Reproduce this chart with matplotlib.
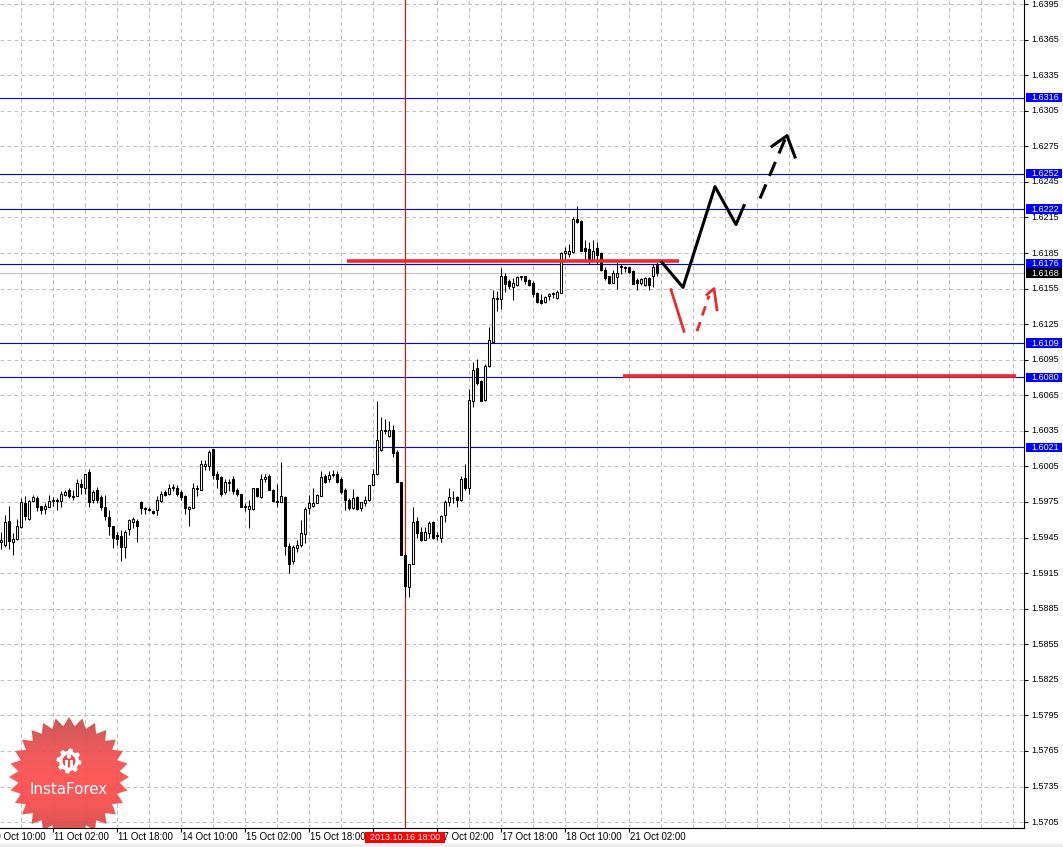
import numpy as np
import matplotlib
matplotlib.use('Agg')
import matplotlib.pyplot as plt
from matplotlib.patches import Rectangle, Polygon, Circle
from matplotlib.transforms import blended_transform_factory
from matplotlib.colors import LinearSegmentedColormap

# hourly bars, 10 Oct 13:00 .. 21 Oct 04:00
opens = [1.5941, 1.5939, 1.5959, 1.5941, 1.5944, 1.5954, 1.5974, 1.5961, 1.5976, 1.5978,
         1.5972, 1.5969, 1.5971, 1.5976, 1.5977, 1.5976, 1.5981, 1.5985, 1.5980, 1.5980,
         1.5990, 1.5987, 1.6000, 1.5977, 1.5985, 1.5979, 1.5971, 1.5962, 1.5955, 1.5947,
         1.5946, 1.5937, 1.5952, 1.5958, 1.5959, 1.5975, 1.5970, 1.5969, 1.5967, 1.5968,
         1.5976, 1.5983, 1.5982, 1.5987, 1.5987, 1.5983, 1.5980, 1.5969, 1.5970, 1.5986,
         1.5985, 1.6005, 1.6005, 1.6020, 1.5999, 1.5996, 1.5983, 1.5992, 1.5994, 1.5985,
         1.5982, 1.5972, 1.5969, 1.5969, 1.5987, 1.5979, 1.5994, 1.5997, 1.5985, 1.5976,
         1.5975, 1.5979, 1.5938, 1.5925, 1.5936, 1.5939, 1.5948, 1.5970, 1.5972, 1.5974,
         1.5980, 1.5997, 1.5994, 1.5998, 1.5999, 1.5994, 1.5985, 1.5977, 1.5970, 1.5979,
         1.5970, 1.5974, 1.5977, 1.5989, 1.5999, 1.6019, 1.6036, 1.6031, 1.6036, 1.6017,
         1.5992, 1.5930, 1.5903, 1.5923, 1.5959, 1.5950, 1.5943, 1.5949, 1.5958, 1.5947,
         1.5945, 1.5964, 1.5975, 1.5978, 1.5979, 1.5977, 1.5995, 1.5987, 1.6060, 1.6088,
         1.6077, 1.6061, 1.6090, 1.6110, 1.6147, 1.6146, 1.6166, 1.6161, 1.6156, 1.6158,
         1.6165, 1.6166, 1.6162, 1.6160, 1.6151, 1.6145, 1.6144, 1.6149, 1.6150, 1.6147,
         1.6151, 1.6185, 1.6184, 1.6186, 1.6214, 1.6212, 1.6189, 1.6188, 1.6178, 1.6189,
         1.6185, 1.6171, 1.6166, 1.6160, 1.6165, 1.6174, 1.6173, 1.6173, 1.6170, 1.6162,
         1.6160, 1.6158, 1.6164, 1.6166, 1.6175]
highs = [1.5950, 1.5964, 1.5972, 1.5949, 1.5961, 1.5978, 1.5980, 1.5977, 1.5981, 1.5980,
         1.5972, 1.5974, 1.5981, 1.5979, 1.5978, 1.5984, 1.5985, 1.5987, 1.5985, 1.5994,
         1.5994, 1.5999, 1.6003, 1.5985, 1.5988, 1.5981, 1.5981, 1.5968, 1.5955, 1.5950,
         1.5951, 1.5951, 1.5961, 1.5962, 1.5961, 1.5976, 1.5971, 1.5971, 1.5968, 1.5980,
         1.5984, 1.5985, 1.5990, 1.5990, 1.5989, 1.5985, 1.5981, 1.5972, 1.5991, 1.5989,
         1.6010, 1.6010, 1.6019, 1.6020, 1.6001, 1.5997, 1.5994, 1.5994, 1.5997, 1.5987,
         1.5982, 1.5974, 1.5977, 1.5987, 1.5987, 1.5999, 1.5999, 1.5999, 1.5986, 1.5990,
         1.6009, 1.5980, 1.5940, 1.5939, 1.5943, 1.5960, 1.5971, 1.5981, 1.5987, 1.5982,
         1.6001, 1.5999, 1.6001, 1.6002, 1.6001, 1.5996, 1.5987, 1.5978, 1.5986, 1.5980,
         1.5975, 1.5980, 1.5989, 1.6003, 1.6060, 1.6047, 1.6045, 1.6043, 1.6040, 1.6019,
         1.5992, 1.5932, 1.5923, 1.5971, 1.5962, 1.5954, 1.5954, 1.5959, 1.5959, 1.5950,
         1.5964, 1.5977, 1.5987, 1.5984, 1.5980, 1.5997, 1.6007, 1.6070, 1.6093, 1.6096,
         1.6078, 1.6091, 1.6123, 1.6154, 1.6153, 1.6172, 1.6168, 1.6163, 1.6164, 1.6166,
         1.6166, 1.6166, 1.6163, 1.6161, 1.6152, 1.6150, 1.6149, 1.6151, 1.6152, 1.6154,
         1.6186, 1.6190, 1.6193, 1.6215, 1.6225, 1.6213, 1.6196, 1.6194, 1.6196, 1.6194,
         1.6186, 1.6173, 1.6166, 1.6171, 1.6177, 1.6176, 1.6174, 1.6173, 1.6171, 1.6164,
         1.6164, 1.6165, 1.6165, 1.6176, 1.6177]
lows = [1.5935, 1.5937, 1.5935, 1.5930, 1.5943, 1.5953, 1.5960, 1.5960, 1.5975, 1.5967,
        1.5965, 1.5965, 1.5971, 1.5972, 1.5968, 1.5971, 1.5980, 1.5978, 1.5977, 1.5980,
        1.5982, 1.5982, 1.5971, 1.5974, 1.5974, 1.5968, 1.5960, 1.5947, 1.5936, 1.5939,
        1.5925, 1.5928, 1.5947, 1.5953, 1.5941, 1.5965, 1.5965, 1.5967, 1.5965, 1.5964,
        1.5975, 1.5980, 1.5981, 1.5984, 1.5980, 1.5977, 1.5965, 1.5955, 1.5970, 1.5980,
        1.5985, 1.6002, 1.6002, 1.5994, 1.5987, 1.5980, 1.5982, 1.5984, 1.5982, 1.5980,
        1.5971, 1.5967, 1.5953, 1.5968, 1.5979, 1.5978, 1.5992, 1.5985, 1.5975, 1.5971,
        1.5975, 1.5930, 1.5915, 1.5923, 1.5933, 1.5937, 1.5940, 1.5965, 1.5971, 1.5974,
        1.5980, 1.5991, 1.5992, 1.5996, 1.5991, 1.5982, 1.5968, 1.5968, 1.5969, 1.5968,
        1.5967, 1.5972, 1.5976, 1.5989, 1.5998, 1.6018, 1.6032, 1.6030, 1.6013, 1.5992,
        1.5930, 1.5895, 1.5895, 1.5923, 1.5945, 1.5942, 1.5943, 1.5945, 1.5944, 1.5943,
        1.5941, 1.5958, 1.5972, 1.5974, 1.5971, 1.5976, 1.5985, 1.5982, 1.6055, 1.6074,
        1.6060, 1.6060, 1.6089, 1.6109, 1.6136, 1.6138, 1.6152, 1.6155, 1.6145, 1.6157,
        1.6162, 1.6159, 1.6157, 1.6148, 1.6143, 1.6142, 1.6143, 1.6145, 1.6147, 1.6146,
        1.6151, 1.6178, 1.6182, 1.6185, 1.6210, 1.6187, 1.6177, 1.6176, 1.6178, 1.6176,
        1.6170, 1.6162, 1.6159, 1.6160, 1.6155, 1.6167, 1.6169, 1.6168, 1.6159, 1.6154,
        1.6158, 1.6157, 1.6154, 1.6156, 1.6166]
closes = [1.5943, 1.5958, 1.5942, 1.5944, 1.5955, 1.5975, 1.5963, 1.5976, 1.5979, 1.5971,
          1.5968, 1.5972, 1.5976, 1.5977, 1.5976, 1.5982, 1.5983, 1.5980, 1.5979, 1.5991,
          1.5988, 1.5999, 1.5975, 1.5983, 1.5977, 1.5971, 1.5963, 1.5955, 1.5945, 1.5944,
          1.5937, 1.5950, 1.5960, 1.5961, 1.5955, 1.5970, 1.5969, 1.5968, 1.5966, 1.5977,
          1.5982, 1.5981, 1.5987, 1.5988, 1.5982, 1.5979, 1.5970, 1.5971, 1.5987, 1.5987,
          1.6007, 1.6007, 1.6017, 1.5998, 1.5994, 1.5982, 1.5992, 1.5991, 1.5984, 1.5982,
          1.5971, 1.5971, 1.5972, 1.5987, 1.5980, 1.5994, 1.5996, 1.5985, 1.5976, 1.5975,
          1.5980, 1.5938, 1.5923, 1.5937, 1.5939, 1.5949, 1.5969, 1.5974, 1.5974, 1.5981,
          1.5996, 1.5992, 1.5998, 1.5999, 1.5992, 1.5983, 1.5977, 1.5970, 1.5978, 1.5969,
          1.5975, 1.5977, 1.5989, 1.5999, 1.6027, 1.6036, 1.6035, 1.6036, 1.6016, 1.5992,
          1.5930, 1.5904, 1.5923, 1.5958, 1.5949, 1.5943, 1.5950, 1.5957, 1.5945, 1.5946,
          1.5963, 1.5975, 1.5979, 1.5978, 1.5977, 1.5994, 1.5987, 1.6061, 1.6086, 1.6075,
          1.6060, 1.6090, 1.6112, 1.6147, 1.6146, 1.6166, 1.6159, 1.6157, 1.6160, 1.6165,
          1.6166, 1.6161, 1.6158, 1.6150, 1.6144, 1.6143, 1.6148, 1.6150, 1.6151, 1.6152,
          1.6185, 1.6187, 1.6187, 1.6214, 1.6211, 1.6187, 1.6187, 1.6178, 1.6187, 1.6183,
          1.6171, 1.6164, 1.6160, 1.6168, 1.6168, 1.6173, 1.6172, 1.6169, 1.6159, 1.6160,
          1.6163, 1.6164, 1.6158, 1.6173, 1.6168]

# axis labels
y_ticks = [1.5705 + 0.003 * k for k in range(24)]
x_tick_pos = [-3, 13, 29, 45, 61, 77, 93, 109, 125, 141, 157]
x_tick_labels = ['10 Oct 10:00', '11 Oct 02:00', '11 Oct 18:00', '14 Oct 10:00', '15 Oct 02:00',
                 '15 Oct 18:00', '', '17 Oct 02:00', '17 Oct 18:00', '18 Oct 10:00',
                 '21 Oct 02:00']
cursor_bar = 101
cursor_label = '2013.10.16 18:00'

# levels drawn on the chart
blue_levels = [1.6316, 1.6252, 1.6222, 1.6176, 1.6109, 1.6080, 1.6021]
bid_price = 1.6168
red_levels = [(86.5, 169.5, 1.6178), (155.5, 253.75, 1.6081)]

# forecast paths
black_x = [165.25, 170.5, 178.5, 183.75, 185.75]
black_y = [1.6177, 1.6156, 1.6241, 1.6209, 1.6225]
black_dash_x = [189.75, 196.0]
black_dash_y = [1.6231, 1.6281]
black_head_x = [192.75, 196.5, 198.5]
black_head_y = [1.6275, 1.6284, 1.6266]
red_x = [167.5, 170.75]
red_y = [1.6154, 1.6119]
red_dash_x = [174.0, 177.0]
red_dash_y = [1.6119, 1.6149]
red_head_x = [176.5, 178.25, 179.0]
red_head_y = [1.6150, 1.6155, 1.6137]

FONT = 'Liberation Sans'
FS_Y = 6.5
FS_X = 7

fig = plt.figure(figsize=(10.63, 8.47), dpi=100)
fig.patches.append(Rectangle((0, 0), 1, 3 / 847, transform=fig.transFigure,
                             color='#ececec', zorder=0))
ax = fig.add_axes([0, 19 / 847, 1024 / 1063, 828 / 847])
ax.set_xlim(-0.25, 255.75)
ax.set_ylim(1.5700, 1.63984)

# grid
grid_kw = dict(color='#c0c0c0', lw=0.75, linestyle=(0, (3.8, 2.9)), zorder=0)
for v in y_ticks:
    ax.axhline(v, **grid_kw)
for gx in range(5, 256, 8):
    ax.axvline(gx, **grid_kw)

# level lines
for v in blue_levels:
    ax.axhline(v, color='#0000ff', lw=0.8, zorder=1)
ax.axhline(bid_price, color='#c0c0c0', lw=0.8, zorder=1)
ax.axvline(cursor_bar, color='#ff0000', lw=0.8, zorder=1)

# candles
o = np.array(opens)
h = np.array(highs)
l = np.array(lows)
c = np.array(closes)
idx = np.arange(len(o))
up = c > o
ax.vlines(idx, l, h, color='black', lw=0.75, zorder=3)
body_h = np.maximum(np.abs(c - o), 0.000005)
ax.bar(idx, body_h, 0.55, np.minimum(o, c), color=np.where(up, 'white', 'black'),
       edgecolor='black', lw=0.75, zorder=4)

# red support/resistance
for x0, x1, v in red_levels:
    ax.plot([x0, x1], [v, v], color='#ee2a2d', lw=2.6, solid_capstyle='butt', zorder=5)

# forecast
ax.plot(black_x, black_y, color='black', lw=2.2, zorder=6)
ax.plot(black_dash_x, black_dash_y, color='black', lw=2.2, linestyle=(0, (5, 3)), zorder=6)
ax.plot(black_head_x, black_head_y, color='black', lw=2.2, zorder=6)
ax.plot(red_x, red_y, color='#ee2a2d', lw=2.0, zorder=6)
ax.plot(red_dash_x, red_dash_y, color='#ee2a2d', lw=2.0, linestyle=(0, (3.5, 2.5)), zorder=6)
ax.plot(red_head_x, red_head_y, color='#ee2a2d', lw=2.0, zorder=6)

# axes frame and ticks
for s in ['top', 'left']:
    ax.spines[s].set_visible(False)
for s in ['right', 'bottom']:
    ax.spines[s].set_linewidth(0.8)
ax.yaxis.tick_right()
ax.set_yticks(y_ticks)
ax.set_yticklabels([])
ax.set_xticks([p for p in x_tick_pos if p >= 0])
ax.set_xticklabels([])
ax.tick_params(axis='both', direction='out', length=3, width=0.75, color='black')

ytr = blended_transform_factory(ax.transAxes, ax.transData)
xtr = blended_transform_factory(ax.transData, ax.transAxes)
for v in y_ticks:
    ax.text(1.0068, v, f'{v:.4f}', transform=ytr, ha='left', va='center',
            fontsize=FS_Y, family=FONT, color='black', clip_on=False, zorder=8)
for p, t in zip(x_tick_pos, x_tick_labels):
    if t:
        ax.text(p + 0.3, -0.0112, t, transform=xtr, ha='left', va='center',
                fontsize=FS_X, family=FONT, color='black', clip_on=False, zorder=8)

box_h = 0.00080
for v, fc in [(lv, '#0000ff') for lv in blue_levels] + [(bid_price, 'black')]:
    ax.add_patch(Rectangle((1.0019, v - box_h / 2), 0.0352, box_h, transform=ytr,
                           facecolor=fc, edgecolor='none', clip_on=False, zorder=10))
    ax.text(1.0068, v, f'{v:.4f}', transform=ytr, ha='left', va='center',
            fontsize=FS_Y, family=FONT, color='white', clip_on=False, zorder=11)

ax.add_patch(Rectangle((91, -0.0183), 20, 0.0135, transform=xtr, facecolor='#ff0000',
                       edgecolor='none', clip_on=False, zorder=10))
ax.text(cursor_bar, -0.0115, cursor_label, transform=xtr, ha='center', va='center',
        fontsize=FS_Y, family=FONT, color='white', clip_on=False, zorder=11)

# InstaForex badge, drawn in pixel units of the image
lg = fig.add_axes([0, 19 / 847, 140 / 1063, 120 / 847])
lg.axis('off')
n_sp = 28
ang = np.linspace(0, 2 * np.pi, 2 * n_sp, endpoint=False) - np.pi / 2
rad = np.where(np.arange(2 * n_sp) % 2 == 0, 60, 51)
star = Polygon(np.column_stack([69 + rad * np.cos(ang), 777 + rad * np.sin(ang)]),
               closed=True, facecolor='none', edgecolor='none')
lg.add_patch(star)
cmap = LinearSegmentedColormap.from_list('badge', ['#c44a4a', '#e84c4c', '#ff4b4b',
                                                   '#f44848', '#cc4444'])
grad = np.linspace(0, 1, 256).reshape(-1, 1)
im = lg.imshow(grad, cmap=cmap, extent=(0, 140, 837, 717), aspect='auto', alpha=0.92,
               zorder=1)
im.set_clip_path(star)
lg.set_xlim(0, 140)
lg.set_ylim(828, 708)

g_ang = np.linspace(0, 2 * np.pi, 64, endpoint=False)
g_rad = np.where((np.arange(64) // 4) % 2 == 0, 12.5, 10.0)
lg.add_patch(Polygon(np.column_stack([69 + g_rad * np.cos(g_ang), 761 + g_rad * np.sin(g_ang)]),
                     closed=True, facecolor='white', edgecolor='none', zorder=3))
lg.add_patch(Circle((69, 761), 6.5, facecolor='#f24a4a', edgecolor='none', zorder=4))
lg.add_patch(Circle((69, 756.5), 2.2, facecolor='white', edgecolor='none', zorder=5))
lg.add_patch(Rectangle((65.3, 759.5), 2.3, 9, facecolor='white', edgecolor='none', zorder=5))
lg.add_patch(Rectangle((70.4, 759.5), 2.3, 9, facecolor='white', edgecolor='none', zorder=5))
lg.text(69, 789, 'InstaForex', ha='center', va='center', fontsize=10.8,
        family='DejaVu Sans', color='white', zorder=6)

fig.savefig('out.png', dpi=100)
